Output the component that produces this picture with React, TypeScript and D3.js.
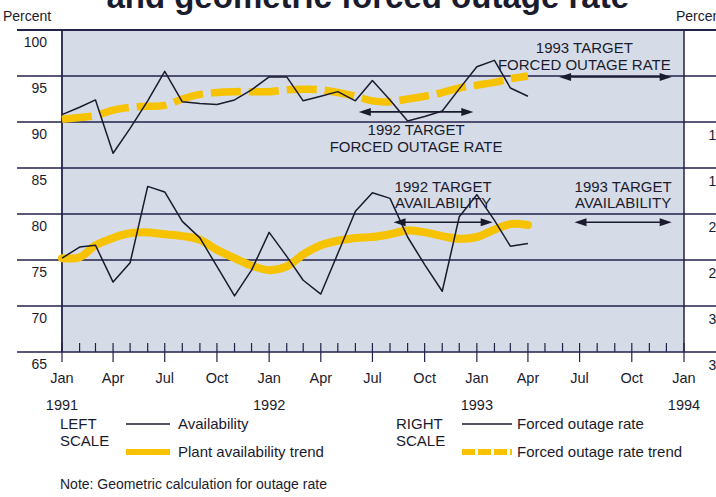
import React from "react";
import * as d3 from "d3";

// ---- data (monthly, Jan 1991 .. Apr 1993) ----
const availability = [
  75.2, 76.4, 76.6, 72.6, 74.7, 83.0, 82.4, 79.2, 77.4, 74.3, 71.1, 73.9,
  78.0, 75.4, 72.8, 71.3, 75.7, 80.3, 82.3, 81.7, 77.5, 74.5, 71.6, 79.7,
  82.1, 79.3, 76.5, 76.8,
];
const availabilityTrend = [
  75.2, 75.3, 76.6, 77.4, 77.9, 78.0, 77.8, 77.6, 77.2, 76.1, 75.2, 74.4,
  73.9, 74.3, 75.6, 76.6, 77.1, 77.4, 77.5, 77.8, 78.2, 78.0, 77.6, 77.3,
  77.5, 78.3, 78.9, 78.8,
];
const forcedOutage = [
  9.2, 8.4, 7.6, 13.4, 10.7, 7.7, 4.5, 7.8, 8.0, 8.1, 7.6, 6.5,
  5.1, 5.1, 7.7, 7.2, 6.7, 7.7, 5.5, 7.6, 9.9, 9.4, 8.8, 6.4,
  4.0, 3.3, 6.3, 7.2,
];
const forcedOutageTrend = [
  9.7, 9.5, 9.3, 8.7, 8.4, 8.3, 8.2, 7.5, 7.0, 6.8, 6.7, 6.7,
  6.7, 6.5, 6.45, 6.5, 6.8, 7.2, 7.7, 7.8, 7.5, 7.2, 6.8, 6.3,
  6.0, 5.7, 5.3, 5.0,
];
const leftTicks = [100, 95, 90, 85, 80, 75, 70, 65];
const rightTicks = [0, 5, 10, 15, 20, 25, 30, 35];
const quarterLabels = ["Jan", "Apr", "Jul", "Oct", "Jan", "Apr", "Jul", "Oct", "Jan", "Apr", "Jul", "Oct", "Jan"];
const yearLabels = ["1991", "1992", "1993", "1994"];

const forTargets = [
  { l1: "1992 TARGET", l2: "FORCED OUTAGE RATE", from: 17.2, to: 23.8, value: 8.9, below: true, textShift: 0 },
  { l1: "1993 TARGET", l2: "FORCED OUTAGE RATE", from: 28.8, to: 35.3, value: 5.1, below: false, textShift: -31 },
];
const availTargets = [
  { l1: "1992 TARGET", l2: "AVAILABILITY", from: 19.2, to: 24.9, value: 79.1 },
  { l1: "1993 TARGET", l2: "AVAILABILITY", from: 29.7, to: 35.3, value: 79.1 },
];

const W = 716;
const H = 497;
const FONT = "'Liberation Sans', Arial, Helvetica, sans-serif";
const INK = "#1b1b2e";
const GRID = "#22224a";
const YELLOW = "#f7c300";
const BG = "#d5dbe7";

const start = new Date(1991, 0, 1);
const end = new Date(1994, 0, 1);
const x = d3.scaleTime().domain([start, end]).range([62, 684]);
const yL = d3.scaleLinear().domain([65, 100]).range([352, 30]);
const yR = d3.scaleLinear().domain([0, 35]).range([30, 352]);
const monthDate = (i: number) => d3.timeMonth.offset(start, i);
const xm = (m: number) => {
  const base = Math.floor(m);
  const a = x(monthDate(base));
  const b = x(monthDate(base + 1));
  return a + (b - a) * (m - base);
};

function Arrow({ x1, x2, y }: { x1: number; x2: number; y: number }) {
  const hl = 12;
  const hw = 4;
  return (
    <g>
      <line x1={x1 + 4} x2={x2 - 4} y1={y} y2={y} stroke={INK} strokeWidth={1.6} />
      <path d={`M${x1},${y} L${x1 + hl},${y - hw} L${x1 + hl},${y + hw} Z`} fill={INK} />
      <path d={`M${x2},${y} L${x2 - hl},${y - hw} L${x2 - hl},${y + hw} Z`} fill={INK} />
    </g>
  );
}

export default function App() {
  const idx = availability.map((_, i) => i);
  const availPath = d3
    .line<number>()
    .x((i) => x(monthDate(i)))
    .y((i) => yL(availability[i]))(idx);
  const availTrendPath = d3
    .line<number>()
    .x((i) => x(monthDate(i)))
    .y((i) => yL(availabilityTrend[i]))
    .curve(d3.curveCatmullRom.alpha(0.5))(idx);
  const forPath = d3
    .line<number>()
    .x((i) => x(monthDate(i)))
    .y((i) => yR(forcedOutage[i]))(idx);
  const forTrendPath = d3
    .line<number>()
    .x((i) => x(monthDate(i)))
    .y((i) => yR(forcedOutageTrend[i]))
    .curve(d3.curveCatmullRom.alpha(0.5))(idx);

  const allMonths = d3.range(0, 37);

  return (
    <svg
      width={W}
      height={H}
      style={{ position: "absolute", left: 0, top: 0, background: "#fff" }}
      fontFamily={FONT}
    >
      {/* title (cut at top) */}
      <text x={629} y={8} textAnchor="end" fontSize={33} fontWeight="bold" fill={INK}>
        and geometric forced outage rate
      </text>

      {/* plot background */}
      <rect x={x(start)} y={yL(100)} width={x(end) - x(start)} height={yL(65) - yL(100)} fill={BG} />

      {/* axis titles */}
      <text x={3} y={21} fontSize={14} fill={INK}>Percent</text>
      <text x={676} y={21} fontSize={14} fill={INK}>Percent</text>

      {/* gridlines */}
      {leftTicks.map((t) => (
        <line key={t} x1={17} x2={W} y1={yL(t)} y2={yL(t)} stroke={GRID} strokeWidth={t === 100 ? 2.2 : 1.5} />
      ))}
      {leftTicks.map((t) => (
        <text key={"l" + t} x={47} y={yL(t) + 17} textAnchor="end" fontSize={14} fill={INK}>{t}</text>
      ))}
      {rightTicks.map((t) => (
        <text key={"r" + t} x={724} y={yR(t) + 18} textAnchor="end" fontSize={14} fill={INK}>{t}</text>
      ))}

      {/* vertical borders */}
      <line x1={x(start)} x2={x(start)} y1={yL(100)} y2={yL(65)} stroke={GRID} strokeWidth={1.8} />
      <line x1={x(end)} x2={x(end)} y1={yL(100)} y2={yL(65)} stroke={GRID} strokeWidth={1.5} />

      {/* x ticks */}
      {allMonths.map((m) => {
        const xx = x(monthDate(m));
        const major = m % 3 === 0;
        return (
          <line key={m} x1={xx} x2={xx} y1={yL(65) - 9} y2={major ? yL(65) + 10 : yL(65)} stroke={GRID} strokeWidth={1.2} />
        );
      })}
      {quarterLabels.map((lab, i) => (
        <text key={"q" + i} x={x(monthDate(i * 3))} y={383} textAnchor="middle" fontSize={14.5} fill={INK}>{lab}</text>
      ))}
      {yearLabels.map((lab, i) => (
        <text key={"y" + i} x={x(monthDate(i * 12))} y={410} textAnchor="middle" fontSize={14.5} fill={INK}>{lab}</text>
      ))}

      {/* trends */}
      <path d={availTrendPath || ""} fill="none" stroke={YELLOW} strokeWidth={8} strokeLinecap="round" strokeLinejoin="round" />
      <path d={forTrendPath || ""} fill="none" stroke={YELLOW} strokeWidth={7.5} strokeDasharray="30 8" strokeLinejoin="round" />

      {/* actual lines */}
      <path d={availPath || ""} fill="none" stroke={INK} strokeWidth={1.5} strokeLinejoin="round" />
      <path d={forPath || ""} fill="none" stroke={INK} strokeWidth={1.5} strokeLinejoin="round" />

      {/* targets */}
      {forTargets.map((t, i) => {
        const x1 = xm(t.from);
        const x2 = xm(t.to);
        const yy = yR(t.value);
        const cx = (x1 + x2) / 2 + t.textShift;
        return (
          <g key={"ft" + i}>
            <Arrow x1={x1} x2={x2} y={yy} />
            {t.below ? (
              <g>
                <text x={cx} y={yy + 23} textAnchor="middle" fontSize={15} fill={INK}>{t.l1}</text>
                <text x={cx} y={yy + 40} textAnchor="middle" fontSize={15} fill={INK}>{t.l2}</text>
              </g>
            ) : (
              <g>
                <text x={cx} y={yy - 24} textAnchor="middle" fontSize={15} fill={INK}>{t.l1}</text>
                <text x={cx} y={yy - 7} textAnchor="middle" fontSize={15} fill={INK}>{t.l2}</text>
              </g>
            )}
          </g>
        );
      })}
      {availTargets.map((t, i) => {
        const x1 = xm(t.from);
        const x2 = xm(t.to);
        const yy = yL(t.value);
        const cx = (x1 + x2) / 2;
        return (
          <g key={"at" + i}>
            <Arrow x1={x1} x2={x2} y={yy} />
            <text x={cx} y={yy - 30} textAnchor="middle" fontSize={15} fill={INK}>{t.l1}</text>
            <text x={cx} y={yy - 14} textAnchor="middle" fontSize={15} fill={INK}>{t.l2}</text>
          </g>
        );
      })}

      {/* legend */}
      <g fontSize={15} fill={INK}>
        <text x={60} y={429}>LEFT</text>
        <text x={60} y={446}>SCALE</text>
        <line x1={126} x2={170} y1={424} y2={424} stroke={INK} strokeWidth={1.5} />
        <text x={178} y={429}>Availability</text>
        <line x1={126} x2={170} y1={452} y2={452} stroke={YELLOW} strokeWidth={6} />
        <text x={178} y={457}>Plant availability trend</text>

        <text x={396} y={429}>RIGHT</text>
        <text x={396} y={446}>SCALE</text>
        <line x1={462} x2={512} y1={424} y2={424} stroke={INK} strokeWidth={1.5} />
        <text x={517} y={429}>Forced outage rate</text>
        <line x1={462} x2={512} y1={452} y2={452} stroke={YELLOW} strokeWidth={6} strokeDasharray="13 3" />
        <text x={517} y={457}>Forced outage rate trend</text>

        <text x={60} y={489} fontSize={14}>Note: Geometric calculation for outage rate</text>
      </g>
    </svg>
  );
}
